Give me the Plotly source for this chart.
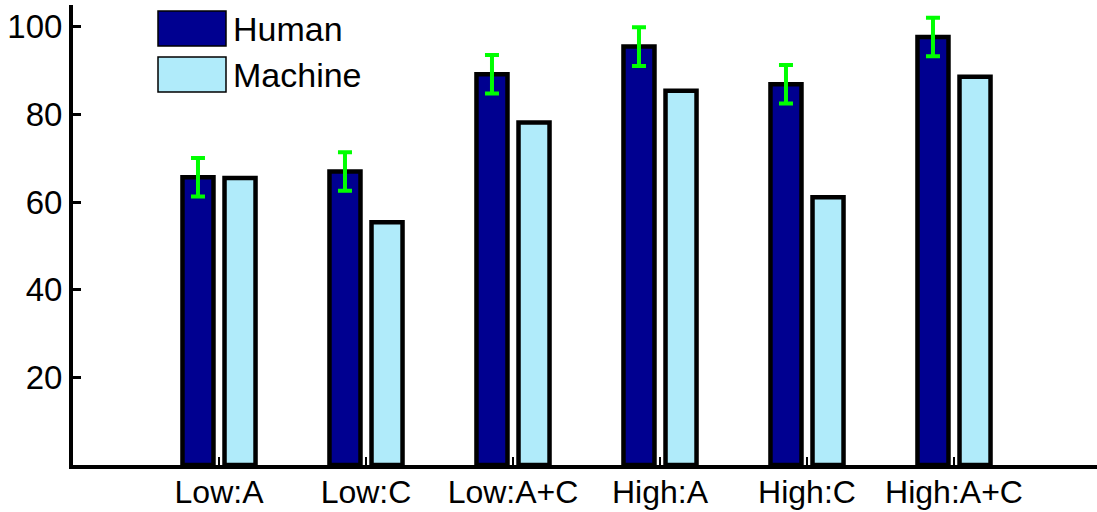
import plotly.graph_objects as go

# Recognition accuracy (%) per condition
conditions = ["Low:A", "Low:C", "Low:A+C", "High:A", "High:C", "High:A+C"]
human = [65.7, 67.0, 89.2, 95.5, 86.9, 97.7]
human_err = [4.4, 4.4, 4.4, 4.4, 4.4, 4.4]
machine = [65.5, 55.4, 78.2, 85.4, 61.1, 88.6]
y_ticks = [20, 40, 60, 80, 100]

HUMAN_COLOR = "#000090"
MACHINE_COLOR = "#B0EBFA"
FONT = "Liberation Sans, Arial, sans-serif"

W, H = 1097, 512
L, R, T, B = 73, 0, 5, 47
PW, PH = W - L - R, H - T - B

xpos = list(range(1, len(conditions) + 1))
bar_w = 0.211
half_sep = 0.143

fig = go.Figure()
fig.add_trace(go.Bar(
    x=xpos, y=human, name="Human",
    width=bar_w, offset=-half_sep - bar_w / 2,
    marker=dict(color=HUMAN_COLOR, line=dict(color="black", width=4.5)),
    error_y=dict(type="data", array=human_err, visible=True,
                 color="#00FF00", thickness=4, width=7),
    showlegend=False,
))
fig.add_trace(go.Bar(
    x=xpos, y=machine, name="Machine",
    width=bar_w, offset=half_sep - bar_w / 2,
    marker=dict(color=MACHINE_COLOR, line=dict(color="black", width=4.5)),
    showlegend=False,
))


def px_x(p):
    return (p - L) / PW


def px_y(p):
    return (H - B - p) / PH


# Legend drawn as swatches + labels
legend_items = [("Human", HUMAN_COLOR, 11), ("Machine", MACHINE_COLOR, 57)]
shapes = []
annotations = []
for label, color, top in legend_items:
    shapes.append(dict(
        type="rect", xref="paper", yref="paper",
        x0=px_x(158), x1=px_x(226), y0=px_y(top + 35), y1=px_y(top),
        fillcolor=color, line=dict(color="black", width=1.5),
    ))
    annotations.append(dict(
        xref="paper", yref="paper", x=px_x(231), y=px_y(top + 18),
        text=label, showarrow=False, xanchor="left", yanchor="middle",
        font=dict(family=FONT, size=34, color="black"),
    ))

x0 = 1 - 146 / 147
fig.update_layout(
    width=W, height=H,
    margin=dict(l=L, r=R, t=T, b=B, pad=0, autoexpand=False),
    paper_bgcolor="white", plot_bgcolor="white",
    barmode="overlay",
    shapes=shapes, annotations=annotations,
    xaxis=dict(
        range=[x0, x0 + PW / 147],
        tickvals=xpos, ticktext=conditions,
        showgrid=False, zeroline=False, automargin=False,
        showline=True, linecolor="black", linewidth=4,
        ticks="inside", ticklen=8, tickwidth=2, tickcolor="black",
        ticklabelstandoff=-4,
        tickfont=dict(family=FONT, size=32, color="black"),
    ),
    yaxis=dict(
        range=[0, 105],
        tickvals=y_ticks,
        showgrid=False, zeroline=False, automargin=False,
        showline=True, linecolor="black", linewidth=4,
        ticks="inside", ticklen=8, tickwidth=3, tickcolor="black",
        tickfont=dict(family=FONT, size=33, color="black"),
    ),
)

fig.write_html("out.html")
